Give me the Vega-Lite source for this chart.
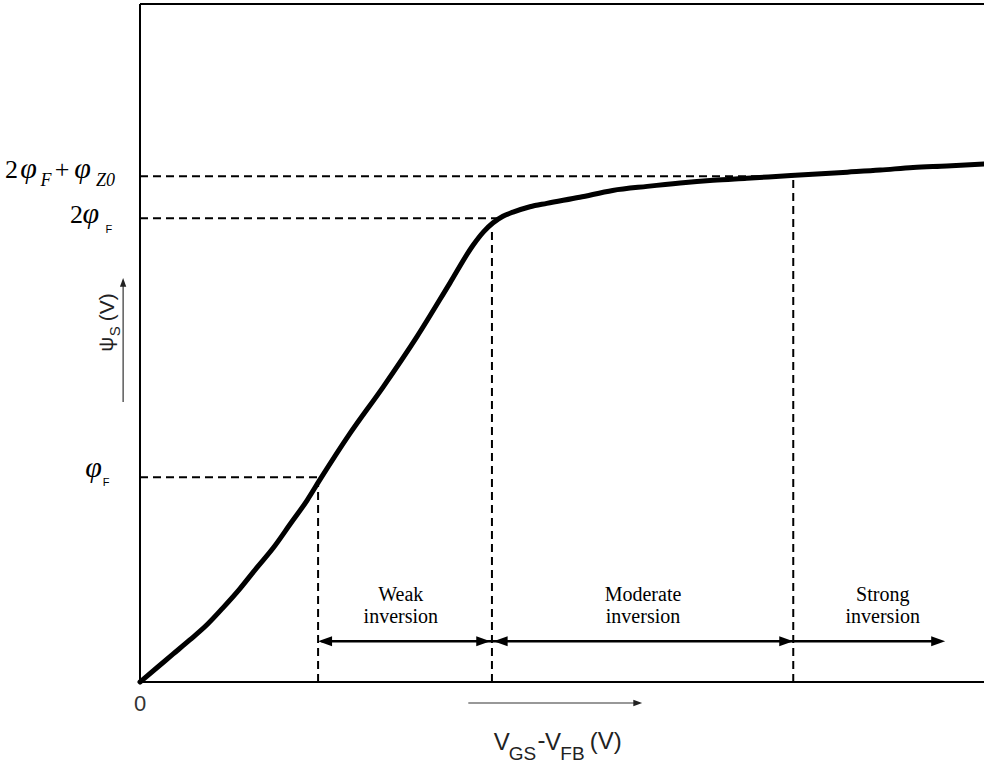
{
  "$schema": "https://vega.github.io/schema/vega-lite/v6.json",
  "width": 844,
  "height": 678,
  "autosize": {"type": "none"},
  "padding": {"left": 140, "top": 4, "right": 0, "bottom": 83},
  "background": "white",
  "config": {"view": {"stroke": null}},
  "datasets": {
    "curve": [
      {"x": 0, "y": 0}, {"x": 0.20, "y": 0.21}, {"x": 0.39, "y": 0.41}, {"x": 0.59, "y": 0.62},
      {"x": 0.79, "y": 0.84}, {"x": 0.98, "y": 1.09}, {"x": 1.18, "y": 1.37}, {"x": 1.38, "y": 1.68},
      {"x": 1.58, "y": 1.98}, {"x": 1.78, "y": 2.33}, {"x": 1.98, "y": 2.68}, {"x": 2.13, "y": 2.98},
      {"x": 2.49, "y": 3.67}, {"x": 2.88, "y": 4.35}, {"x": 3.28, "y": 5.09}, {"x": 3.67, "y": 5.88},
      {"x": 3.95, "y": 6.45}, {"x": 4.07, "y": 6.64}, {"x": 4.18, "y": 6.77}, {"x": 4.30, "y": 6.87},
      {"x": 4.42, "y": 6.93}, {"x": 4.62, "y": 7.01}, {"x": 4.82, "y": 7.06}, {"x": 5.21, "y": 7.15},
      {"x": 5.60, "y": 7.25}, {"x": 6.01, "y": 7.31}, {"x": 6.40, "y": 7.36}, {"x": 6.79, "y": 7.40},
      {"x": 7.19, "y": 7.43}, {"x": 7.58, "y": 7.46}, {"x": 7.97, "y": 7.49}, {"x": 8.38, "y": 7.52},
      {"x": 8.77, "y": 7.55}, {"x": 9.16, "y": 7.59}, {"x": 9.56, "y": 7.61}, {"x": 10.0, "y": 7.64}
    ],
    "frame": [
      {"x": 0, "y": 0, "x2": 0, "y2": 10},
      {"x": 0, "y": 0, "x2": 10, "y2": 0},
      {"x": 0, "y": 10, "x2": 10, "y2": 10}
    ],
    "guides": [
      {"x": 0, "y": 3.02, "x2": 2.13, "y2": 3.02},
      {"x": 0, "y": 6.84, "x2": 4.23, "y2": 6.84},
      {"x": 0, "y": 7.46, "x2": 7.74, "y2": 7.46},
      {"x": 2.11, "y": 0, "x2": 2.11, "y2": 2.95},
      {"x": 4.17, "y": 0, "x2": 4.17, "y2": 6.70},
      {"x": 7.74, "y": 0, "x2": 7.74, "y2": 7.43}
    ],
    "arrowlines": [
      {"x": 2.15, "y": 0.6, "x2": 9.45, "y2": 0.6, "kind": "region"},
      {"x": 3.89, "y": -0.31, "x2": 5.9, "y2": -0.31, "kind": "axis"},
      {"x": -0.2, "y": 4.13, "x2": -0.2, "y2": 5.9, "kind": "axis"}
    ],
    "heads": [
      {"x": 2.11, "y": 0.6, "dir": "left", "kind": "region"},
      {"x": 4.15, "y": 0.6, "dir": "right", "kind": "region"},
      {"x": 4.19, "y": 0.6, "dir": "left", "kind": "region"},
      {"x": 7.74, "y": 0.6, "dir": "right", "kind": "region"},
      {"x": 9.54, "y": 0.6, "dir": "right", "kind": "region"},
      {"x": 5.95, "y": -0.31, "dir": "right", "kind": "axis"},
      {"x": -0.2, "y": 5.96, "dir": "up", "kind": "axis"}
    ],
    "labels": [
      {"text": "2", "x": -1.60, "y": 7.43, "kind": "num"},
      {"text": "φ", "x": -1.42, "y": 7.43, "kind": "phi"},
      {"text": "F", "x": -1.18, "y": 7.32, "kind": "subI"},
      {"text": "+", "x": -1.01, "y": 7.43, "kind": "num"},
      {"text": "φ", "x": -0.78, "y": 7.43, "kind": "phi"},
      {"text": "Z0", "x": -0.52, "y": 7.32, "kind": "subI"},
      {"text": "2", "x": -0.83, "y": 6.77, "kind": "num"},
      {"text": "φ", "x": -0.68, "y": 6.77, "kind": "phi"},
      {"text": "F", "x": -0.41, "y": 6.62, "kind": "subF"},
      {"text": "φ", "x": -0.65, "y": 3.02, "kind": "phi"},
      {"text": "F", "x": -0.44, "y": 2.89, "kind": "subF"},
      {"text": "Weak", "x": 3.09, "y": 1.19, "kind": "region"},
      {"text": "inversion", "x": 3.09, "y": 0.87, "kind": "region"},
      {"text": "Moderate", "x": 5.96, "y": 1.19, "kind": "region"},
      {"text": "inversion", "x": 5.96, "y": 0.87, "kind": "region"},
      {"text": "Strong", "x": 8.80, "y": 1.19, "kind": "region"},
      {"text": "inversion", "x": 8.80, "y": 0.87, "kind": "region"},
      {"text": "0", "x": 0, "y": -0.43, "kind": "tick"},
      {"text": "V", "x": 4.19, "y": -1.00, "kind": "xt"},
      {"text": "GS", "x": 4.37, "y": -1.15, "kind": "xts"},
      {"text": "-", "x": 4.71, "y": -0.97, "kind": "xt"},
      {"text": "V", "x": 4.80, "y": -1.00, "kind": "xt"},
      {"text": "FB", "x": 4.98, "y": -1.15, "kind": "xts"},
      {"text": "(V)", "x": 5.33, "y": -0.99, "kind": "xt"},
      {"text": "ψ", "x": -0.32, "y": 4.87, "kind": "yt"},
      {"text": "S", "x": -0.24, "y": 5.10, "kind": "yts"},
      {"text": "(V)", "x": -0.31, "y": 5.32, "kind": "yt"}
    ]
  },
  "encoding": {
    "x": {"field": "x", "type": "quantitative", "scale": {"domain": [0, 10], "nice": false, "zero": false}, "axis": null},
    "y": {"field": "y", "type": "quantitative", "scale": {"domain": [0, 10], "nice": false, "zero": false}, "axis": null}
  },
  "layer": [
    {
      "data": {"name": "frame"},
      "mark": {"type": "rule", "color": "black", "strokeWidth": 2},
      "encoding": {"x2": {"field": "x2"}, "y2": {"field": "y2"}}
    },
    {
      "data": {"name": "guides"},
      "mark": {"type": "rule", "color": "black", "strokeWidth": 2, "strokeDash": [8, 5]},
      "encoding": {"x2": {"field": "x2"}, "y2": {"field": "y2"}}
    },
    {
      "data": {"name": "curve"},
      "mark": {"type": "line", "color": "black", "strokeWidth": 5, "strokeJoin": "round", "strokeCap": "round", "interpolate": "monotone"},
      "encoding": {}
    },
    {
      "data": {"name": "arrowlines"},
      "transform": [{"filter": "datum.kind === 'region'"}],
      "mark": {"type": "rule", "color": "black", "strokeWidth": 2.5},
      "encoding": {"x2": {"field": "x2"}, "y2": {"field": "y2"}}
    },
    {
      "data": {"name": "arrowlines"},
      "transform": [{"filter": "datum.kind === 'axis'"}],
      "mark": {"type": "rule", "color": "#333333", "strokeWidth": 1.2},
      "encoding": {"x2": {"field": "x2"}, "y2": {"field": "y2"}}
    },
    {
      "data": {"name": "heads"},
      "transform": [{"filter": "datum.kind === 'region'"}],
      "mark": {"type": "point", "filled": true, "color": "black", "opacity": 1, "size": 400, "strokeWidth": 0},
      "encoding": {
        "shape": {"field": "dir", "type": "nominal", "legend": null,
          "scale": {"domain": ["left", "right", "up"], "range": ["M0,0L1.4,-0.5L1.4,0.5Z", "M0,0L-1.4,-0.5L-1.4,0.5Z", "M0,0L-0.5,1.4L0.5,1.4Z"]}}
      }
    },
    {
      "data": {"name": "heads"},
      "transform": [{"filter": "datum.kind === 'axis'"}],
      "mark": {"type": "point", "filled": true, "color": "#222222", "opacity": 1, "size": 160, "strokeWidth": 0},
      "encoding": {
        "shape": {"field": "dir", "type": "nominal", "legend": null}
      }
    },
    {
      "data": {"name": "labels"},
      "transform": [{"filter": "datum.kind === 'num'"}],
      "mark": {"type": "text", "font": "Liberation Serif", "fontSize": 26, "align": "left", "baseline": "alphabetic", "color": "black"},
      "encoding": {"text": {"field": "text"}}
    },
    {
      "data": {"name": "labels"},
      "transform": [{"filter": "datum.kind === 'phi'"}],
      "mark": {"type": "text", "font": "Liberation Serif", "fontSize": 30, "fontStyle": "italic", "align": "left", "baseline": "alphabetic", "color": "black"},
      "encoding": {"text": {"field": "text"}}
    },
    {
      "data": {"name": "labels"},
      "transform": [{"filter": "datum.kind === 'subI'"}],
      "mark": {"type": "text", "font": "Liberation Serif", "fontSize": 18, "fontStyle": "italic", "align": "left", "baseline": "alphabetic", "color": "black"},
      "encoding": {"text": {"field": "text"}}
    },
    {
      "data": {"name": "labels"},
      "transform": [{"filter": "datum.kind === 'subF'"}],
      "mark": {"type": "text", "font": "Liberation Sans", "fontSize": 11, "align": "left", "baseline": "alphabetic", "color": "black"},
      "encoding": {"text": {"field": "text"}}
    },
    {
      "data": {"name": "labels"},
      "transform": [{"filter": "datum.kind === 'region'"}],
      "mark": {"type": "text", "font": "Liberation Serif", "fontSize": 20, "align": "center", "baseline": "alphabetic", "color": "black"},
      "encoding": {"text": {"field": "text"}}
    },
    {
      "data": {"name": "labels"},
      "transform": [{"filter": "datum.kind === 'tick'"}],
      "mark": {"type": "text", "font": "Liberation Sans", "fontSize": 22, "align": "center", "baseline": "alphabetic", "color": "#333333"},
      "encoding": {"text": {"field": "text"}}
    },
    {
      "data": {"name": "labels"},
      "transform": [{"filter": "datum.kind === 'xt'"}],
      "mark": {"type": "text", "font": "Liberation Sans", "fontSize": 24, "align": "left", "baseline": "alphabetic", "color": "#222222"},
      "encoding": {"text": {"field": "text"}}
    },
    {
      "data": {"name": "labels"},
      "transform": [{"filter": "datum.kind === 'xts'"}],
      "mark": {"type": "text", "font": "Liberation Sans", "fontSize": 19, "align": "left", "baseline": "alphabetic", "color": "#222222"},
      "encoding": {"text": {"field": "text"}}
    },
    {
      "data": {"name": "labels"},
      "transform": [{"filter": "datum.kind === 'yt'"}],
      "mark": {"type": "text", "font": "Liberation Sans", "fontSize": 21, "angle": 270, "align": "left", "baseline": "alphabetic", "color": "#222222"},
      "encoding": {"text": {"field": "text"}}
    },
    {
      "data": {"name": "labels"},
      "transform": [{"filter": "datum.kind === 'yts'"}],
      "mark": {"type": "text", "font": "Liberation Sans", "fontSize": 15, "angle": 270, "align": "left", "baseline": "alphabetic", "color": "#222222"},
      "encoding": {"text": {"field": "text"}}
    }
  ]
}
